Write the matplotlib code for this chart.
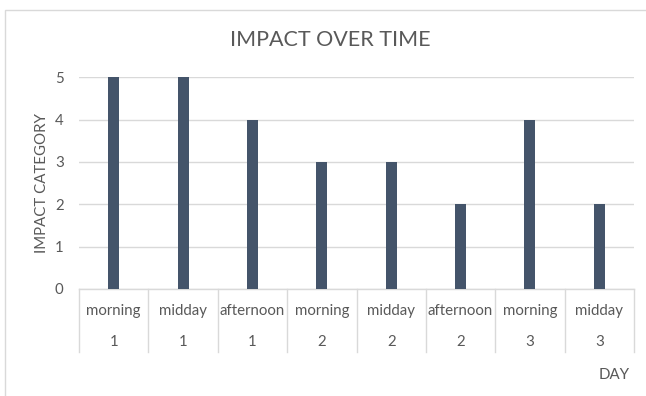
import matplotlib
matplotlib.use("Agg")
import matplotlib.pyplot as plt
import matplotlib.transforms as mtransforms
from matplotlib.patches import Rectangle

# Data
periods = ["morning", "midday", "afternoon", "morning", "midday", "afternoon", "morning", "midday"]
days = ["1", "1", "1", "2", "2", "2", "3", "3"]
impact = [5, 5, 4, 3, 3, 2, 4, 2]
y_ticks = [0, 1, 2, 3, 4, 5]

W, H = 646, 396
fig = plt.figure(figsize=(W / 100, H / 100), dpi=100)
plt.rcParams["font.family"] = ["Lato", "DejaVu Sans"]

TEXT = "#595959"
GRID = "#D9D9D9"
BAR = "#44546A"
FS = 10.8

# chart-area border
fig.patches.append(Rectangle((5 / W, -0.01), 1.2, 1 - 10 / H + 0.01, transform=fig.transFigure,
                             fill=False, edgecolor=GRID, linewidth=1.0, zorder=0))

left, right = 79 / W, 634 / W
bottom, top = 1 - 289 / H, 1 - 77.3 / H
ax = fig.add_axes([left, bottom, right - left, top - bottom])

x = list(range(len(impact)))
ax.bar(x, impact, width=0.16, color=BAR, zorder=3)
ax.set_xlim(-0.5, len(impact) - 0.5)
ax.set_ylim(0, 5)
ax.set_yticks(y_ticks)
ax.set_yticklabels([str(t) for t in y_ticks], color=TEXT, fontsize=FS)
ax.tick_params(axis="y", length=0, pad=11)
ax.set_xticks([])
ax.grid(axis="y", color=GRID, linewidth=1.0, zorder=0)
for s in ["top", "right", "left", "bottom"]:
    ax.spines[s].set_visible(False)

# category axis: baseline, separators and two rows of labels
trans = mtransforms.blended_transform_factory(ax.transData, ax.transAxes)
ax_h = (top - bottom) * H
sep_bottom = -(352 - 289) / ax_h
row1 = -(310.7 - 289) / ax_h
row2 = -(341.7 - 289) / ax_h
ax.plot([-0.5, len(impact) - 0.5], [0, 0], transform=trans, color=GRID, lw=1.0, clip_on=False)
for b in range(len(impact) + 1):
    ax.plot([b - 0.5, b - 0.5], [0, sep_bottom], transform=trans, color=GRID, lw=1.0, clip_on=False)
for i, (p, d) in enumerate(zip(periods, days)):
    ax.text(i, row1, p, transform=trans, ha="center", va="center", color=TEXT, fontsize=FS)
    ax.text(i, row2, d, transform=trans, ha="center", va="center", color=TEXT, fontsize=FS)

fig.text(330 / W, 1 - 40.5 / H, "IMPACT OVER TIME", ha="center", va="center", color=TEXT, fontsize=15.5)
fig.text(41.7 / W, 1 - 183 / H, "IMPACT CATEGORY", ha="center", va="center", rotation=90,
         color=TEXT, fontsize=FS)
fig.text(630 / W, 1 - 375 / H, "DAY", ha="right", va="center", color=TEXT, fontsize=FS)

fig.savefig("out.png", dpi=100, facecolor="white")
